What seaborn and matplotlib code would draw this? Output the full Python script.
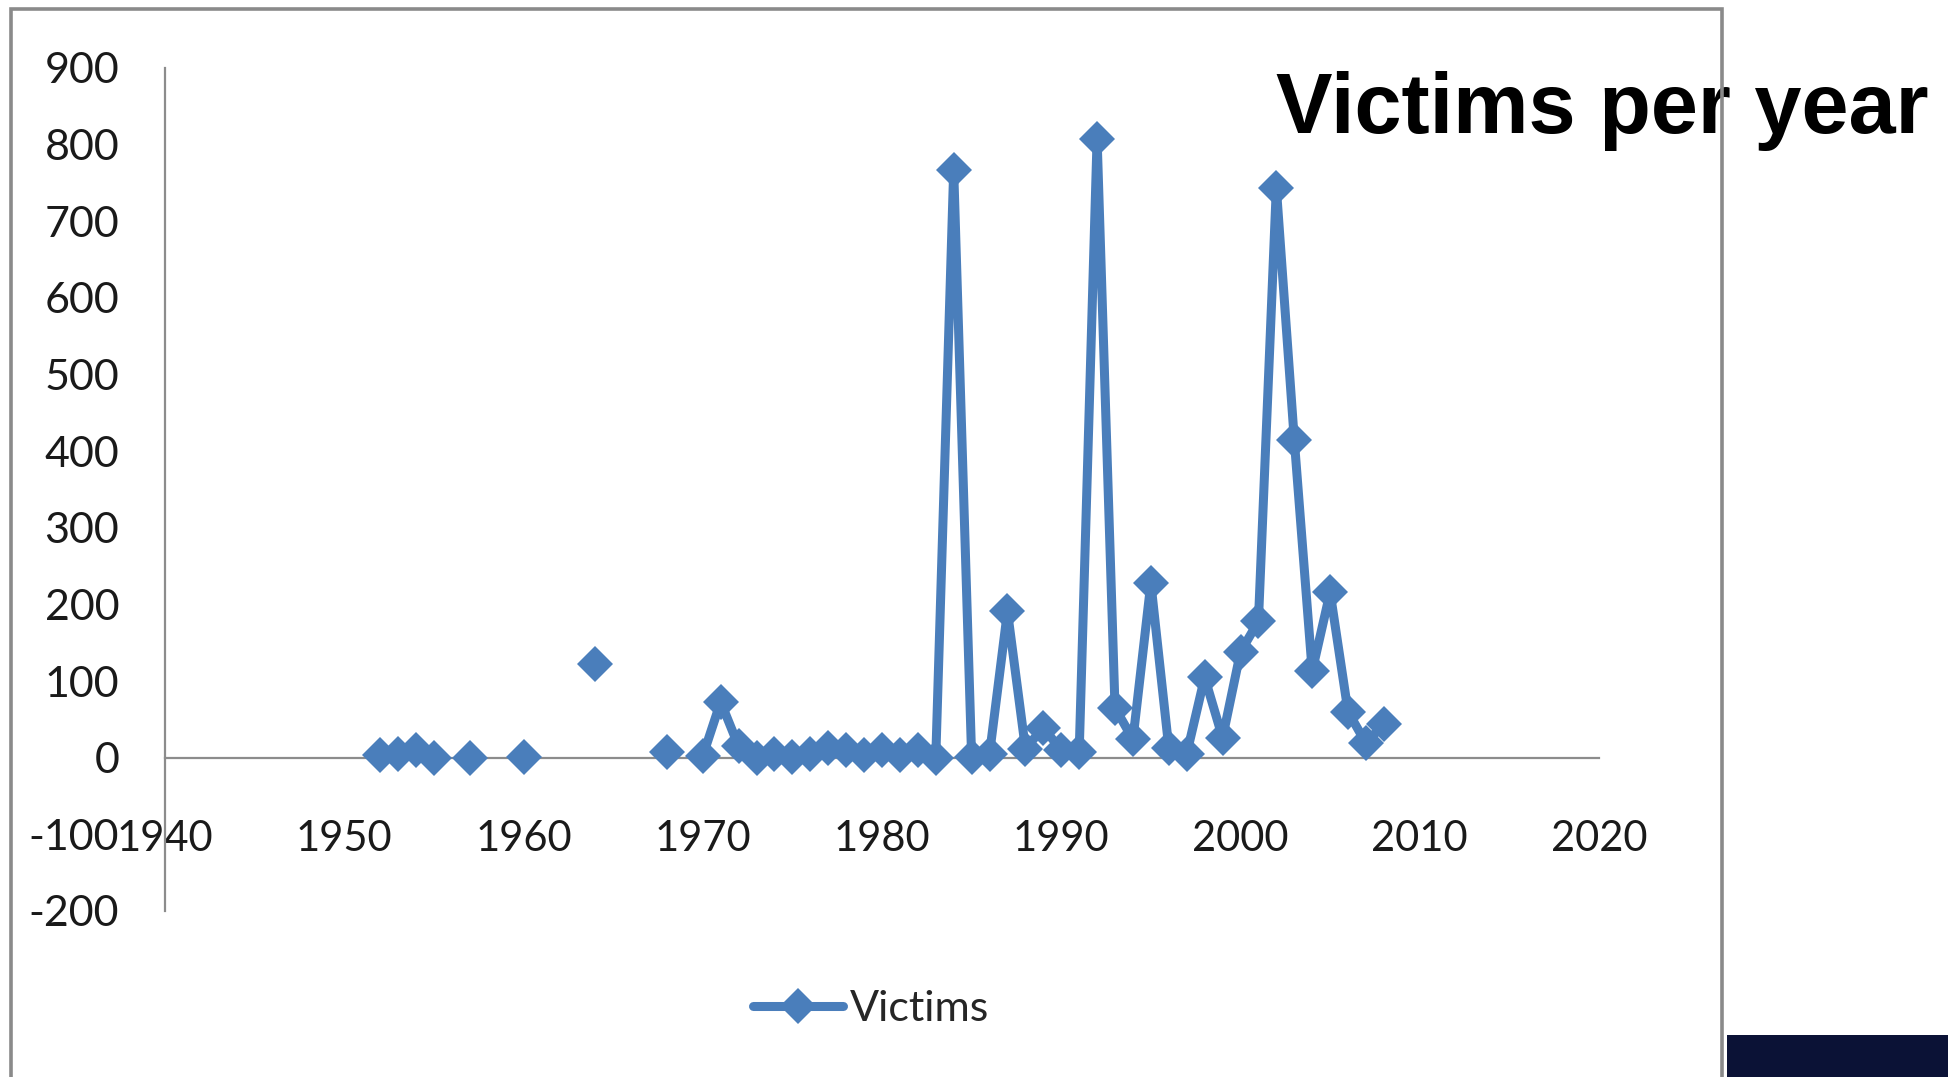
import numpy as np
import pandas as pd
import matplotlib
matplotlib.use("Agg")
import matplotlib.pyplot as plt
import seaborn as sns
from matplotlib.lines import Line2D
from matplotlib.patches import Rectangle

# ---- data ----
years = [1952, 1953, 1954, 1955, 1957, 1960, 1964, 1968,
         1970, 1971, 1972, 1973, 1974, 1975, 1976, 1977, 1978, 1979,
         1980, 1981, 1982, 1983, 1984, 1985, 1986, 1987, 1988, 1989,
         1990, 1991, 1992, 1993, 1994, 1995, 1996, 1997, 1998, 1999,
         2000, 2001, 2002, 2003, 2004, 2005, 2006, 2007, 2008]
victims = [3, 5, 10, 0, 0, 1, 122, 8,
           2, 73, 15, 0, 5, 1, 5, 13, 10, 3,
           10, 4, 10, 0, 767, 1, 5, 191, 12, 39,
           10, 7, 808, 65, 24, 228, 13, 5, 105, 26,
           138, 178, 744, 415, 113, 216, 60, 19, 44]
x_ticks = [1940, 1950, 1960, 1970, 1980, 1990, 2000, 2010, 2020]
y_ticks = [-200, -100, 0, 100, 200, 300, 400, 500, 600, 700, 800, 900]
series_name = "Victims"
title_text = "Victims per year"

# line breaks where years are missing (as Excel does with empty cells)
yr = np.array(years)
segment = np.concatenate([[0], np.cumsum(np.diff(yr) > 1)])
df = pd.DataFrame({"year": years, "victims": victims, "segment": segment})

sns.set_style("white")
plt.rcParams["font.family"] = ["Lato", "DejaVu Sans"]
plt.rcParams["axes.unicode_minus"] = False

W, H = 1948, 1077
fig = plt.figure(figsize=(W / 100, H / 100), dpi=100)
fig.patch.set_facecolor("white")

ax_left, ax_right = 165, 1599
ax_top, ax_bot = 68, 911
ax = fig.add_axes([ax_left / W, 1 - ax_bot / H, (ax_right - ax_left) / W, (ax_bot - ax_top) / H])

blue = "#4A7EBB"
sns.lineplot(data=df, x="year", y="victims", units="segment", estimator=None,
             color=blue, marker="D", markersize=18.5, markeredgewidth=0,
             linewidth=6.5, legend=False, ax=ax, sort=True)

ax.set_xlim(x_ticks[0], x_ticks[-1])
ax.set_ylim(y_ticks[0], y_ticks[-1])
ax.set_xticks(x_ticks)
ax.set_yticks(y_ticks)
ax.set_xlabel("")
ax.set_ylabel("")

for s in ["top", "right"]:
    ax.spines[s].set_visible(False)
ax.spines["bottom"].set_position(("data", 0))
axis_col = "#8C8C8C"
ax.spines["bottom"].set_color(axis_col)
ax.spines["left"].set_color(axis_col)
ax.spines["bottom"].set_linewidth(1.6)
ax.spines["left"].set_linewidth(1.6)
ax.spines["bottom"].set_zorder(0.5)

ax.tick_params(axis="x", length=0, pad=45, labelsize=30, labelcolor="#1a1a1a")
ax.tick_params(axis="y", length=0, pad=33, labelsize=31, labelcolor="#1a1a1a")

# legend
handle = Line2D([], [], color=blue, marker="D", markersize=18.5, markeredgewidth=0, linewidth=6.5)
leg = fig.legend([handle], [series_name], loc="center", bbox_to_anchor=(0.447, 1 - 1009 / H),
                 frameon=False, handlelength=2.1, handletextpad=0.15,
                 prop={"family": "Lato", "size": 31})

# title
fig.text(1276 / W, 1 - 133 / H, title_text, ha="left", va="baseline",
         fontsize=61, fontweight="bold", family="Liberation Sans", color="black", zorder=5)

# outer frame of the chart area
fig.add_artist(Rectangle((11 / W, -0.02), (1722 - 11) / W, 1 - 9 / H + 0.02,
                         transform=fig.transFigure, fill=False,
                         edgecolor="#8A8A8A", linewidth=2.6, zorder=10))
# dark bar bottom right
fig.add_artist(Rectangle((1727 / W, 0), (W - 1727) / W, 42 / H,
                         transform=fig.transFigure, facecolor="#0B1236",
                         edgecolor="none", zorder=11))

fig.savefig("out.png", dpi=100, facecolor="white")
